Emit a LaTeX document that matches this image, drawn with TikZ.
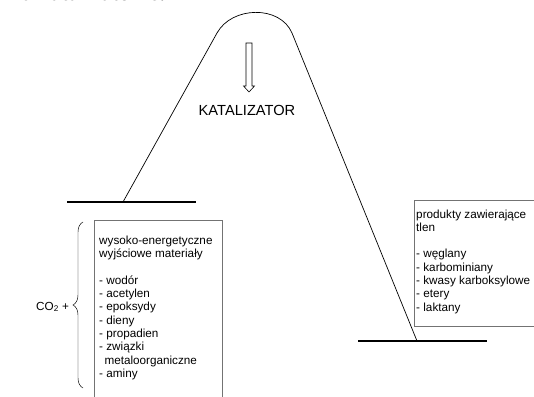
\documentclass[tikz,border=0pt]{standalone}
\usepackage{fontspec}
\setmainfont{Liberation Sans}
\newfontfamily\headfont{Liberation Serif}
\usetikzlibrary{decorations.pathreplacing}

\tikzset{
    level/.style={line width=2.4pt},
    profile/.style={line width=0.6pt},
    listbox/.style={draw=gray!90!black,line width=0.7pt},
    listtext/.style={anchor=base west,inner sep=0pt,font=\fontsize{10}{12}\selectfont},
}

\begin{document}
\begin{tikzpicture}[x=0.03cm,y=-0.03cm]
    \useasboundingbox (0,0) rectangle (534,397);
    \clip (0,0) rectangle (534,397);

    % heading, cut off at the top
    \node[anchor=base west,inner sep=0pt,font=\headfont\bfseries\fontsize{18.5}{20}\selectfont] (heading) at (10,1) {na katalizatorze:};

    % energy levels and the profile between them
    \draw[level] (67,202) to (196,202);
    \draw[level] (358,341) to (487,341);
    \draw[profile] (123,202) -- (217,33) .. controls (232,6) and (280,5) .. (292,33) -- (417,341);

    % hollow arrow
    \draw[line width=0.5pt,fill=white] (246,43) -- (252,43) -- (252,86) -- (254.5,86) -- (249,92) -- (243.5,86) -- (246,86) -- cycle;
    \node[anchor=base,inner sep=0pt,font=\fontsize{12.5}{14}\selectfont] (catalyst) at (247,115.5) {KATALIZATOR};

    % substrates
    \draw[listbox] (94,220) rectangle (222,410);
    \foreach \txt [count=\i from 0] in {wysoko-energetyczne,wyjściowe materiały,,- wodór,- acetylen,- epoksydy,- dieny,- propadien,- związki,\hspace*{4.5pt}metaloorganiczne,- aminy} {
        \node[listtext] (sub\i) at (99,244+13.35*\i) {\txt};
    }
    \draw[decorate,decoration={brace,amplitude=0.3cm}] (83,388) -- (83,222);
    \node[listtext] (co2) at (36,310) {CO\textsubscript{2} +};

    % products
    \draw[listbox] (414,200) rectangle (560,326);
    \foreach \txt [count=\i from 0] in {produkty zawierające,tlen,,- węglany,- karbominiany,- kwasy karboksylowe,- etery,- laktany} {
        \node[listtext] (prod\i) at (416,218+13.3*\i) {\txt};
    }
\end{tikzpicture}
\end{document}
